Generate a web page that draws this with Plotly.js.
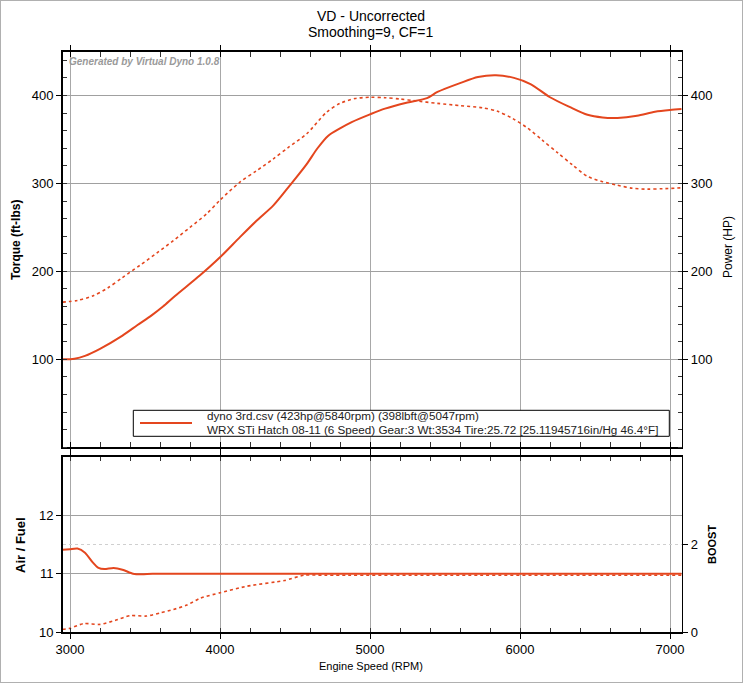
<!DOCTYPE html>
<html>
<head>
<meta charset="utf-8">
<script src="https://cdn.plot.ly/plotly-3.0.1.min.js"></script>
<style>
  body { margin: 0; background: #fff; }
  #myDiv { width: 743px; height: 683px; }
</style>
</head>
<body>
<div id="myDiv"></div>
<script>
// dyno run values
var torqueRpm = [2950, 3050, 3150, 3250, 3350, 3467, 3580, 3689, 3800, 3911, 4000, 4133, 4240, 4356, 4456, 4578, 4711, 4800, 4900, 5000, 5100, 5200, 5300, 5450, 5600, 5750, 5850, 5950, 6050, 6150, 6250, 6350, 6450, 6550, 6650, 6750, 6850, 6950, 7078];
var torque = [165, 167, 172, 181, 193, 207, 221, 235, 250, 265.5, 281, 301.5, 314, 328, 341, 356.5, 381, 391, 396.5, 398, 397.5, 396, 394, 391, 388.5, 386, 382, 374, 363, 349, 335, 321, 308, 302, 298, 294.5, 293.5, 294, 295];

var powerRpm = [2950, 3030, 3100, 3200, 3350, 3450, 3544, 3620, 3700, 3867, 4000, 4133, 4240, 4356, 4467, 4578, 4650, 4720, 4800, 4878, 5000, 5100, 5250, 5380, 5450, 5600, 5720, 5840, 5960, 6070, 6200, 6330, 6450, 6550, 6650, 6780, 6900, 7000, 7078];
var power = [100, 100.8, 104, 112, 127, 139, 150, 160, 172, 195.5, 216, 239, 257, 275, 298, 322, 340, 354, 362.5, 369.7, 378.5, 385, 392, 397, 404, 414, 421, 423, 420, 413, 398, 387, 378, 375, 374.5, 377, 381.5, 383.5, 384.5];

var afrRpm = [2950, 3000, 3050, 3100, 3150, 3190, 3230, 3290, 3350, 3420, 3480, 3550, 4000, 5000, 6000, 7078];
var afr = [11.41, 11.42, 11.43, 11.36, 11.2, 11.1, 11.08, 11.1, 11.07, 11.0, 10.99, 11.0, 11.0, 11.0, 11.0, 11.0];

var boostRpm = [2950, 3000, 3090, 3200, 3300, 3400, 3510, 3600, 3690, 3780, 3870, 4000, 4180, 4430, 4560, 4700, 5500, 6500, 7078];
var boost = [0.07, 0.09, 0.2, 0.18, 0.27, 0.38, 0.37, 0.44, 0.52, 0.62, 0.78, 0.9, 1.05, 1.18, 1.3, 1.3, 1.3, 1.3, 1.3];

var xTicks = [3000, 4000, 5000, 6000, 7000];
var hpTicks = [100, 200, 300, 400];
var afrTicks = [10, 11, 12];
var boostTicks = [0, 2];

var legendLine1 = 'dyno 3rd.csv (423hp@5840rpm) (398lbft@5047rpm)';
var legendLine2 = 'WRX STi Hatch 08-11 (6 Speed) Gear:3 Wt:3534 Tire:25.72 [25.11945716in/Hg 46.4°F]';

var red = '#e4461e';
var font = 'Liberation Sans, Arial, sans-serif';
var W = 743, H = 683;

// pixel -> paper helpers (margins are zero)
function px(x) { return x / W; }
function py(y) { return 1 - y / H; }

var torqueTrace = {
  x: torqueRpm, y: torque, xaxis: 'x2', yaxis: 'y',
  mode: 'lines', line: {color: red, width: 1.6, dash: 'dot', shape: 'spline', smoothing: 0.8},
  showlegend: false
};
var powerTrace = {
  x: powerRpm, y: power, xaxis: 'x2', yaxis: 'y2',
  mode: 'lines', line: {color: red, width: 2, shape: 'spline', smoothing: 0.8},
  showlegend: false
};
var afrTrace = {
  x: afrRpm, y: afr, xaxis: 'x', yaxis: 'y3',
  mode: 'lines', line: {color: red, width: 2, shape: 'spline', smoothing: 0.6},
  showlegend: false
};
var boostTrace = {
  x: boostRpm, y: boost, xaxis: 'x', yaxis: 'y4',
  mode: 'lines', line: {color: red, width: 1.6, dash: 'dot', shape: 'spline', smoothing: 0.6},
  showlegend: false
};

var data = [torqueTrace, powerTrace, afrTrace, boostTrace];

var tickFont = {family: font, size: 13, color: '#000'};

var xBase = {
  range: [2950, 7078],
  tickvals: xTicks,
  showgrid: true, gridcolor: '#a8a8a8', gridwidth: 1,
  zeroline: false,
  showline: true, linecolor: '#000', linewidth: 1.5,
  ticks: 'outside', ticklen: 5, tickcolor: '#000',
  minor: {dtick: 200, ticks: 'inside', ticklen: 4, tickcolor: '#333', showgrid: false},
  tickfont: tickFont
};

var yBase = {
  zeroline: false,
  showline: true, linecolor: '#000', linewidth: 1.5,
  ticks: 'outside', ticklen: 5, tickcolor: '#000',
  tickfont: tickFont
};

function label(text, x, y, size, angle, bold) {
  return {
    xref: 'paper', yref: 'paper', x: px(x), y: py(y),
    xanchor: 'center', yanchor: 'middle', showarrow: false,
    text: bold ? '<b>' + text + '</b>' : text, textangle: angle,
    font: {family: font, size: size, color: '#000'}
  };
}

var layout = {
  width: W, height: H,
  margin: {l: 0, r: 0, t: 0, b: 0},
  paper_bgcolor: '#fff', plot_bgcolor: '#fff',
  font: {family: font, color: '#000'},
  showlegend: false,
  xaxis: Object.assign({}, xBase, {
    domain: [px(62.5), px(681.7)], anchor: 'y3', mirror: 'ticks'
  }),
  xaxis2: Object.assign({}, xBase, {
    domain: [px(62.5), px(681.7)], anchor: 'y', matches: 'x', mirror: 'allticks',
    showticklabels: false
  }),
  yaxis: Object.assign({}, yBase, {
    domain: [py(447.3), py(51.5)], range: [0, 450], anchor: 'x2',
    tickvals: hpTicks,
    showgrid: true, gridcolor: '#a0a0a0',
    minor: {dtick: 20, ticks: 'inside', ticklen: 4, tickcolor: '#333', showgrid: false}
  }),
  yaxis2: Object.assign({}, yBase, {
    overlaying: 'y', side: 'right', anchor: 'x2',
    range: [0, 450], tickvals: hpTicks, showgrid: false,
    minor: {dtick: 20, ticks: 'inside', ticklen: 4, tickcolor: '#333', showgrid: false}
  }),
  yaxis3: Object.assign({}, yBase, {
    domain: [py(632.3), py(456.7)], range: [10, 13], anchor: 'x',
    tickvals: afrTicks,
    showgrid: true, gridcolor: '#a0a0a0'
  }),
  yaxis4: Object.assign({}, yBase, {
    overlaying: 'y3', side: 'right', anchor: 'x',
    range: [0, 4], tickvals: boostTicks,
    showgrid: true, gridcolor: '#cfcfcf', griddash: 'dot'
  }),
  annotations: [
    label('VD - Uncorrected', 371, 16, 14, 0, false),
    label('Smoothing=9, CF=1', 371, 32, 14, 0, false),
    label('Torque (ft-lbs)', 16, 240, 12, -90, true),
    label('Power (HP)', 728, 247, 12, -90, false),
    label('Air / Fuel', 20, 545, 13, -90, true),
    label('BOOST', 712, 545, 11, -90, true),
    label('Engine Speed (RPM)', 371, 666, 11, 0, false),
    {
      xref: 'paper', yref: 'paper', x: px(67), y: py(54), xanchor: 'left', yanchor: 'top',
      text: '<b><i>Generated by Virtual Dyno 1.0.8</i></b>', showarrow: false,
      font: {family: font, size: 10, color: '#9a9a9a'}
    },
    {
      xref: 'paper', yref: 'paper', x: px(205), y: py(415.5), xanchor: 'left', yanchor: 'middle',
      text: legendLine1, showarrow: false,
      font: {family: font, size: 11.7, color: '#222'}
    },
    {
      xref: 'paper', yref: 'paper', x: px(205), y: py(429), xanchor: 'left', yanchor: 'middle',
      text: legendLine2, showarrow: false,
      font: {family: font, size: 11.7, color: '#222'}
    }
  ],
  shapes: [
    {
      type: 'rect', xref: 'paper', yref: 'paper', x0: 0, x1: 1, y0: 0, y1: 1,
      line: {color: '#b0b0b0', width: 2}
    },
    {
      type: 'rect', xref: 'paper', yref: 'paper',
      x0: px(133.3), x1: px(669.3), y0: py(436.3), y1: py(410.3),
      fillcolor: '#fff', line: {color: '#000', width: 1}
    },
    {
      type: 'line', xref: 'paper', yref: 'paper',
      x0: px(140), x1: px(192), y0: py(423), y1: py(423),
      line: {color: red, width: 2}
    }
  ]
};

Plotly.newPlot('myDiv', data, layout, {displayModeBar: false, staticPlot: true});
</script>
</body>
</html>
